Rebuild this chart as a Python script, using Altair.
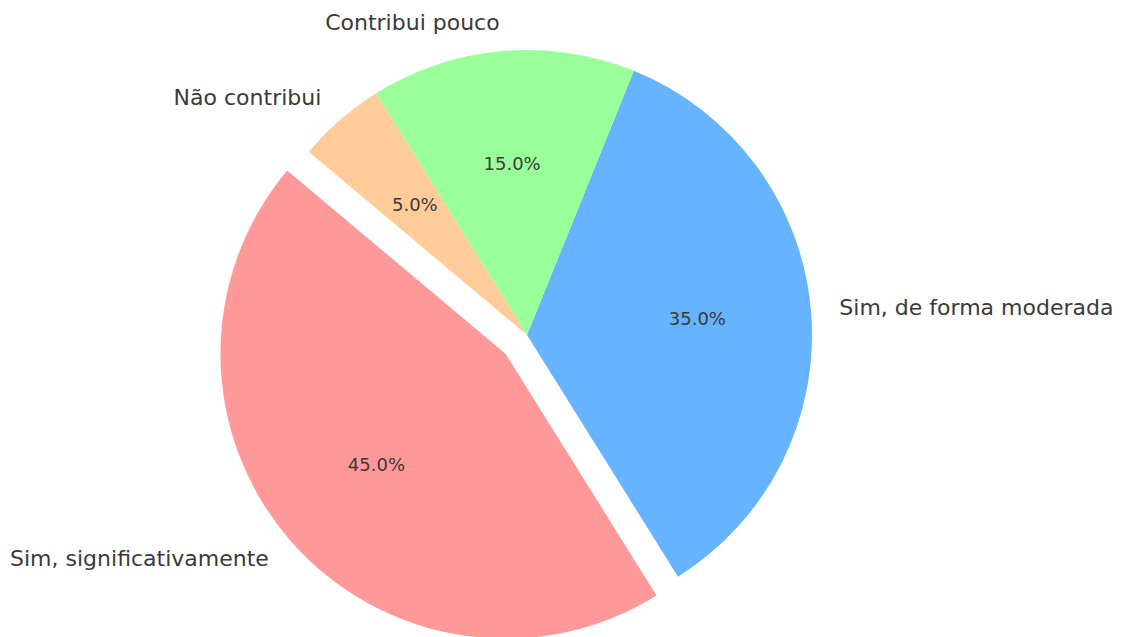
import altair as alt
import pandas as pd

labels = ["Sim, significativamente", "Sim, de forma moderada", "Contribui pouco", "Não contribui"]
values = [45, 35, 15, 5]
colors = ["#ff9999", "#66b3ff", "#99ff99", "#ffcc99"]

# layout / style constants
W, H = 1100, 615
CX, CY, R = 519, 327, 285
START = 140
EXPLODED = "Sim, significativamente"
EXPLODE = 0.1
TEXT_COLOR = "#3a3a3a"

df = pd.DataFrame({"label": labels, "value": values, "idx": list(range(len(labels)))})

base = alt.Chart(df).transform_joinaggregate(
    total="sum(value)"
).transform_window(
    cum="sum(value)", sort=[alt.SortField("idx")], frame=[None, 0]
).transform_calculate(
    a0=f"{START} + 360*(datum.cum - datum.value)/datum.total",
    a1=f"{START} + 360*datum.cum/datum.total",
).transform_calculate(
    mid="(datum.a0 + datum.a1)/2*PI/180",
    t1="(90 - datum.a0)*PI/180",
    t2="(90 - datum.a1)*PI/180",
    ex=f"datum.label === '{EXPLODED}' ? {EXPLODE} : 0",
).transform_calculate(
    cx=f"{CX} + datum.ex*{R}*cos(datum.mid)",
    cy=f"{CY} - datum.ex*{R}*sin(datum.mid)",
).transform_calculate(
    px=f"datum.cx + 0.6*{R}*cos(datum.mid)",
    py=f"datum.cy - 0.6*{R}*sin(datum.mid)",
    lx=f"datum.cx + 1.1*{R}*cos(datum.mid)",
    ly=f"datum.cy - 1.1*{R}*sin(datum.mid)",
    pct="format(100*datum.value/datum.total, '.1f') + '%'",
)

arcs = base.mark_arc(outerRadius=R, innerRadius=0).encode(
    theta=alt.Theta("t1:Q", scale=None),
    theta2=alt.Theta2("t2:Q"),
    x=alt.X("cx:Q", scale=None, axis=None),
    y=alt.Y("cy:Q", scale=None, axis=None),
    color=alt.Color("label:N", scale=alt.Scale(domain=labels, range=colors), legend=None),
)

pct_text = base.mark_text(font="DejaVu Sans", fontSize=18, color=TEXT_COLOR, baseline="middle", align="center").encode(
    x=alt.X("px:Q", scale=None, axis=None),
    y=alt.Y("py:Q", scale=None, axis=None),
    text="pct:N",
)

lab_left = base.transform_filter("cos(datum.mid) < 0").mark_text(
    font="DejaVu Sans", fontSize=22, color=TEXT_COLOR, baseline="middle", align="right"
).encode(
    x=alt.X("lx:Q", scale=None, axis=None),
    y=alt.Y("ly:Q", scale=None, axis=None),
    text="label:N",
)
lab_right = base.transform_filter("cos(datum.mid) >= 0").mark_text(
    font="DejaVu Sans", fontSize=22, color=TEXT_COLOR, baseline="middle", align="left"
).encode(
    x=alt.X("lx:Q", scale=None, axis=None),
    y=alt.Y("ly:Q", scale=None, axis=None),
    text="label:N",
)

chart = alt.layer(arcs, pct_text, lab_left, lab_right).properties(
    width=W, height=H, padding=0
).configure_view(stroke=None)

chart.save("out.html", embed_options={"renderer": "svg", "actions": False})
